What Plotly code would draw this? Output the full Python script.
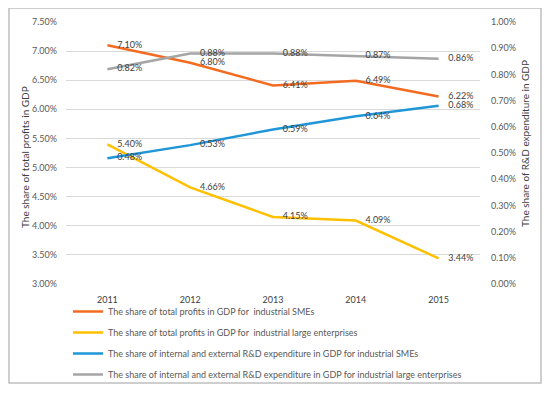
import plotly.graph_objects as go

years = ["2011", "2012", "2013", "2014", "2015"]
profit_sme = [7.10, 6.80, 6.41, 6.49, 6.22]
profit_large = [5.40, 4.66, 4.15, 4.09, 3.44]
rd_sme = [0.48, 0.53, 0.59, 0.64, 0.68]
rd_large = [0.82, 0.88, 0.88, 0.87, 0.86]

names = [
    "The share of total profits in GDP for  industrial SMEs",
    "The share of total profits in GDP for  industrial large enterprises",
    "The share of internal and external R&D expenditure in GDP for industrial SMEs",
    "The share of internal and external R&D expenditure in GDP for industrial large enterprises",
]
colors = ["#F36B21", "#FFC000", "#1E96D8", "#A5A5A5"]

FONT = "Lato, Liberation Sans, Arial, sans-serif"
FS = 9

# page body has an 8px default margin; positions below are screen pixels
OFF = 8
W, H = 550, 393
SL, SR, ST, SB = 66, 480, 22, 284          # plot area in screen pixels
L, T = SL - OFF, ST - OFF
R, B = W - (SR - OFF), H - (SB - OFF)
pw, ph = SR - SL, SB - ST

def px_x(x):
    return (x - SL) / pw

def px_y(y):
    return (SB - y) / ph

fig = go.Figure()
series = [(profit_sme, "y"), (profit_large, "y"), (rd_sme, "y2"), (rd_large, "y2")]
for i, ((vals, ax), name, col) in enumerate(zip(series, names, colors)):
    fig.add_trace(go.Scatter(
        x=years, y=vals, name=name, yaxis=ax, legendgroup=f"g{i}",
        mode="lines+markers+text",
        line=dict(color=col, width=2.5),
        marker=dict(size=14, color="rgba(0,0,0,0)"),
        text=[f"{v:.2f}%" for v in vals],
        textposition="middle right",
        textfont=dict(family=FONT, size=FS, color="#404040"),
        hoverinfo="skip",
    ))

fig.update_layout(
    width=W, height=H,
    margin=dict(l=L, r=R, t=T, b=B, autoexpand=False),
    paper_bgcolor="white", plot_bgcolor="white",
    font=dict(family=FONT, size=FS, color="#595959"),
    xaxis=dict(type="category", range=[-0.5, 4.5], showgrid=False, showline=False,
               zeroline=False, ticks="", tickfont=dict(size=FS, color="#404040"),
               ticklabelstandoff=9),
    yaxis=dict(range=[3, 7.5], dtick=0.5, tick0=3, tickformat=".2f", ticksuffix="%",
               showgrid=True, gridcolor="#D9D9D9", gridwidth=1, zeroline=False,
               showline=False, ticks="", tickfont=dict(size=FS, color="#595959"),
               ticklabelstandoff=8),
    yaxis2=dict(range=[0, 1.0], dtick=0.1, tick0=0, tickformat=".2f", ticksuffix="%",
                overlaying="y", side="right", showgrid=False, zeroline=False,
                showline=False, ticks="", tickfont=dict(size=FS, color="#595959"),
                ticklabelstandoff=10),
    legend=dict(x=px_x(68), y=px_y(297), xanchor="left", yanchor="top",
                orientation="v", itemwidth=30, tracegroupgap=2,
                font=dict(family=FONT, size=FS, color="#595959"),
                bgcolor="rgba(0,0,0,0)"),
    showlegend=True,
    annotations=[
        dict(text="The share of total profits in GDP", xref="paper", yref="paper",
             x=px_x(25), y=px_y(157), textangle=-90, showarrow=False,
             xanchor="center", yanchor="middle",
             font=dict(family=FONT, size=FS + 1, color="#404040")),
        dict(text="The share of R&D expenditure in GDP", xref="paper", yref="paper",
             x=px_x(525), y=px_y(144), textangle=-90, showarrow=False,
             xanchor="center", yanchor="middle",
             font=dict(family=FONT, size=FS + 1, color="#404040")),
    ],
    shapes=[
        dict(type="rect", xref="paper", yref="paper",
             x0=px_x(9), x1=px_x(541), y0=px_y(383), y1=px_y(8),
             line=dict(color="#BFBFBF", width=1.5), layer="below"),
    ],
)

fig.write_html("out.html")
